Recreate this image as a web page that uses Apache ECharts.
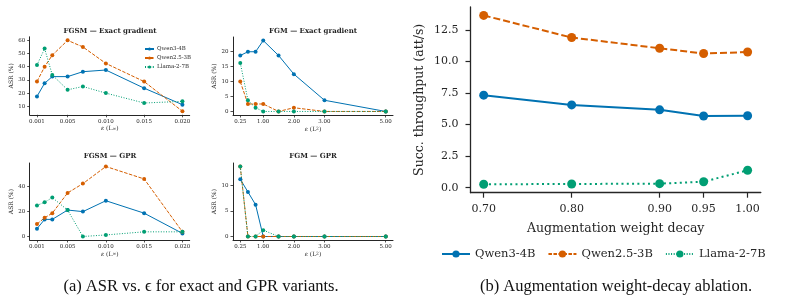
<!DOCTYPE html>
<html>
<head>
<meta charset="utf-8">
<script src="https://cdn.jsdelivr.net/npm/echarts@6/dist/echarts.min.js"></script>
<style>
html,body{margin:0;padding:0;background:#fff}
#chart{width:797px;height:300px}
</style>
</head>
<body>
<div id="chart"></div>
<script>
// modeles et couleurs
var models = ['Qwen3-4B', 'Qwen2.5-3B', 'Llama-2-7B'];
var colors = ['#0072b2', '#d55e00', '#009e73'];

// abscisses
var epsInf = [0.001, 0.002, 0.003, 0.005, 0.007, 0.010, 0.015, 0.020];
var epsL2 = [0.25, 0.5, 0.75, 1.0, 1.5, 2.0, 3.0, 5.0];
var decay = [0.70, 0.80, 0.90, 0.95, 1.00];

// ticks
var ticksInf = [0.001, 0.005, 0.010, 0.015, 0.020];
var ticksL2 = [0.25, 1.00, 2.00, 3.00, 5.00];
var ticksDecay = [0.70, 0.80, 0.90, 0.95, 1.00];
var yTicksFgsmExact = [10, 20, 30, 40, 50, 60];
var yTicksFgmExact = [0, 5, 10, 15, 20];
var yTicksFgsmGpr = [0, 20, 40];
var yTicksFgmGpr = [0, 5, 10];
var yTicksThroughput = [0, 2.5, 5, 7.5, 10, 12.5];

// FGSM - exact gradient (ASR %)
var fgsmExactQwen3 = [17.5, 27.5, 32.5, 32.5, 36.25, 37.5, 23.75, 11.25];
var fgsmExactQwen25 = [28.75, 40, 48.75, 60, 55, 42.5, 28.75, 6.25];
var fgsmExactLlama = [41.25, 53.75, 33.75, 22.5, 25, 20, 12.5, 13.75];

// FGM - exact gradient
var fgmExactQwen3 = [18.75, 20, 20, 23.75, 18.75, 12.5, 3.75, 0];
var fgmExactQwen25 = [10, 2.5, 2.5, 2.5, 0, 1.25, 0, 0];
var fgmExactLlama = [16.25, 3.75, 1.25, 0, 0, 0, 0, 0];

// FGSM - GPR
var fgsmGprQwen3 = [6.25, 13.75, 13.75, 21.25, 20, 28.75, 18.75, 2.5];
var fgsmGprQwen25 = [10, 15, 18.75, 35, 42.5, 56.25, 46.25, 3.75];
var fgsmGprLlama = [25, 27.5, 31.25, 21.25, 0, 1.25, 3.75, 3.75];

// FGM - GPR
var fgmGprQwen3 = [11.25, 8.75, 6.25, 0, 0, 0, 0, 0];
var fgmGprQwen25 = [13.75, 0, 0, 0, 0, 0, 0, 0];
var fgmGprLlama = [13.75, 0, 0, 1.25, 0, 0, 0, 0];

// throughput (att/s)
var thrQwen3 = [7.33, 6.56, 6.17, 5.68, 5.70];
var thrQwen25 = [13.65, 11.9, 11.05, 10.63, 10.75];
var thrLlama = [0.27, 0.29, 0.32, 0.47, 1.38];

var ink = '#262626';
var serif = 'DejaVu Serif';
var dashSmall = [[0], [3.5, 1.5], [1, 1.6]];
var dashBig = [[0], [7, 3], [2, 3.3]];

function padMin(v) { return v.min - 0.05 * (v.max - v.min); }
function padMax(v) { return v.max + 0.05 * (v.max - v.min); }

function line(name, idx, xs, ys, axisIdx, big) {
	var dash = big ? dashBig[idx] : dashSmall[idx];
	return {
		type: 'line',
		name: name,
		xAxisIndex: axisIdx,
		yAxisIndex: axisIdx,
		data: xs.map(function (x, i) { return [x, ys[i]]; }),
		symbol: 'circle',
		symbolSize: big ? 9 : 4,
		color: colors[idx],
		itemStyle: { color: colors[idx] },
		lineStyle: { width: big ? 2 : 1, type: idx == 0 ? 'solid' : dash, color: colors[idx] },
		animation: false
	};
}

function smallX(gi, ticks, dec, sub) {
	return {
		type: 'value', gridIndex: gi, min: padMin, max: padMax,
		axisLine: { show: true, onZero: false, lineStyle: { color: ink, width: 1 } },
		axisTick: { show: true, length: 2.5, customValues: ticks, lineStyle: { color: ink, width: 0.8 } },
		axisLabel: { customValues: ticks, fontSize: 5.5, fontFamily: serif, color: ink, margin: 4,
			formatter: function (v) { return v.toFixed(dec); } },
		splitLine: { show: false },
		name: '{i|ε} (L{s|' + sub + '})', nameLocation: 'middle', nameGap: 11,
		nameTextStyle: { fontSize: 6, fontFamily: serif, color: ink,
			rich: { i: { fontStyle: 'italic', fontSize: 6, fontFamily: serif, color: ink },
					s: { fontSize: 4.5, fontFamily: serif, color: ink } } }
	};
}

function smallY(gi, ticks, gap) {
	return {
		type: 'value', gridIndex: gi, min: padMin, max: padMax,
		axisLine: { show: true, onZero: false, lineStyle: { color: ink, width: 1 } },
		axisTick: { show: true, length: 2.5, customValues: ticks, lineStyle: { color: ink, width: 0.8 } },
		axisLabel: { customValues: ticks, fontSize: 5.5, fontFamily: serif, color: ink, margin: 4.5 },
		splitLine: { show: false },
		name: 'ASR (%)', nameLocation: 'middle', nameGap: gap, nameRotate: 90,
		nameTextStyle: { fontSize: 6, fontFamily: serif, color: ink }
	};
}

var chart = echarts.init(document.getElementById('chart'), null, { renderer: 'canvas' });

var series = [];
var sets = [
	[epsInf, [fgsmExactQwen3, fgsmExactQwen25, fgsmExactLlama]],
	[epsL2, [fgmExactQwen3, fgmExactQwen25, fgmExactLlama]],
	[epsInf, [fgsmGprQwen3, fgsmGprQwen25, fgsmGprLlama]],
	[epsL2, [fgmGprQwen3, fgmGprQwen25, fgmGprLlama]],
	[decay, [thrQwen3, thrQwen25, thrLlama]]
];
for (var g = 0; g < sets.length; g++) {
	for (var m = 0; m < 3; m++) {
		series.push(line(models[m], m, sets[g][0], sets[g][1][m], g, g == 4));
	}
}

var option = {
	backgroundColor: '#fff',
	animation: false,
	grid: [
		{ left: 29.7, top: 36.8, width: 160, height: 78 },
		{ left: 233, top: 37, width: 160, height: 78 },
		{ left: 29.7, top: 163, width: 160, height: 77 },
		{ left: 233, top: 163, width: 160, height: 77 },
		{ left: 470.5, top: 7, width: 290.3, height: 185.7 }
	],
	xAxis: [
		smallX(0, ticksInf, 3, '∞'),
		smallX(1, ticksL2, 2, '2'),
		smallX(2, ticksInf, 3, '∞'),
		smallX(3, ticksL2, 2, '2'),
		{
			type: 'value', gridIndex: 4, min: padMin, max: padMax,
			axisLine: { show: true, onZero: false, lineStyle: { color: ink, width: 1.3 } },
			axisTick: { show: true, length: 5, customValues: ticksDecay, lineStyle: { color: ink, width: 1.2 } },
			axisLabel: { customValues: ticksDecay, fontSize: 11, fontFamily: serif, color: ink, margin: 11,
				formatter: function (v) { return v.toFixed(2); } },
			splitLine: { show: false },
			name: 'Augmentation weight decay', nameLocation: 'middle', nameGap: 30,
			nameTextStyle: { fontSize: 12.5, fontFamily: serif, color: ink }
		}
	],
	yAxis: [
		smallY(0, yTicksFgsmExact, 12),
		smallY(1, yTicksFgmExact, 15),
		smallY(2, yTicksFgsmGpr, 13),
		smallY(3, yTicksFgmGpr, 15),
		{
			type: 'value', gridIndex: 4, min: padMin, max: padMax,
			axisLine: { show: true, onZero: false, lineStyle: { color: ink, width: 1.3 } },
			axisTick: { show: true, length: 5, customValues: yTicksThroughput, lineStyle: { color: ink, width: 1.2 } },
			axisLabel: { customValues: yTicksThroughput, fontSize: 11, fontFamily: serif, color: ink, margin: 12,
				formatter: function (v) { return v.toFixed(1); } },
			splitLine: { show: false },
			name: 'Succ. throughput (att/s)', nameLocation: 'middle', nameGap: 44, nameRotate: 90,
			nameTextStyle: { fontSize: 12.5, fontFamily: serif, color: ink }
		}
	],
	legend: [
		{
			data: models, orient: 'vertical', left: 139, top: 41,
			itemWidth: 9, itemHeight: 4, itemGap: 3,
			textStyle: { fontSize: 5.5, fontFamily: serif, color: ink, padding: [0, 0, 0, -2] }
		},
		{
			data: models, orient: 'horizontal', left: 436, top: 243,
			itemWidth: 28, itemHeight: 9, itemGap: 12,
			textStyle: { fontSize: 11.5, fontFamily: serif, color: ink }
		}
	],
	graphic: [
		{ type: 'text', x: 110, y: 31, style: { text: 'FGSM — Exact gradient', font: 'bold 7px "DejaVu Serif"', fill: ink, textAlign: 'center', textVerticalAlign: 'middle' } },
		{ type: 'text', x: 313, y: 31, style: { text: 'FGM — Exact gradient', font: 'bold 7px "DejaVu Serif"', fill: ink, textAlign: 'center', textVerticalAlign: 'middle' } },
		{ type: 'text', x: 110, y: 156, style: { text: 'FGSM — GPR', font: 'bold 7px "DejaVu Serif"', fill: ink, textAlign: 'center', textVerticalAlign: 'middle' } },
		{ type: 'text', x: 313, y: 156, style: { text: 'FGM — GPR', font: 'bold 7px "DejaVu Serif"', fill: ink, textAlign: 'center', textVerticalAlign: 'middle' } },
		{ type: 'text', x: 201, y: 287, style: { text: '(a) ASR vs. ϵ for exact and GPR variants.', font: '16.5px "Liberation Serif"', fill: '#111', textAlign: 'center', textVerticalAlign: 'middle' } },
		{ type: 'text', x: 616, y: 287, style: { text: '(b) Augmentation weight-decay ablation.', font: '16.5px "Liberation Serif"', fill: '#111', textAlign: 'center', textVerticalAlign: 'middle' } }
	],
	series: series
};

chart.setOption(option);
</script>
</body>
</html>
